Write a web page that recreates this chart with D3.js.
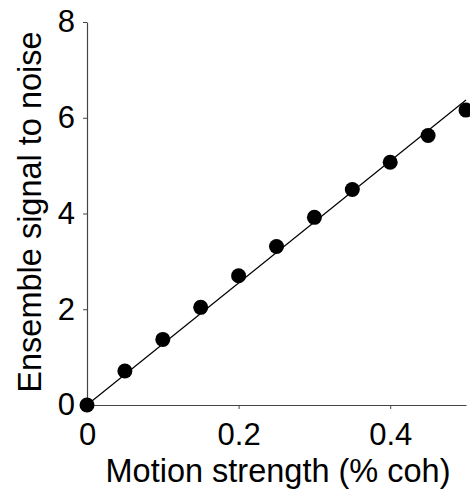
<!DOCTYPE html>
<html>
<head>
<meta charset="utf-8">
<script src="https://cdn.jsdelivr.net/npm/d3@7"></script>
<style>
  body { margin: 0; background: #fff; }
  text { font-family: "Liberation Sans", Arial, Helvetica, sans-serif; }
</style>
</head>
<body>
<svg id="chart"></svg>
<script>
// motion strength (coherence) and ensemble SNR
var coherence = [0, 0.05, 0.1, 0.15, 0.2, 0.25, 0.3, 0.35, 0.4, 0.45, 0.5];
var snr = [0, 0.71, 1.37, 2.04, 2.70, 3.31, 3.92, 4.50, 5.07, 5.63, 6.16];
// fitted line end points
var fitX = [0, 0.5];
var fitY = [0, 6.37];
var xTicks = [0, 0.2, 0.4];
var yTicks = [0, 2, 4, 6, 8];

var width = 470, height = 495;
var margin = { top: 22, right: 4, bottom: 90, left: 87 };

var svg = d3.select("#chart")
    .attr("width", width)
    .attr("height", height);

var x = d3.scaleLinear()
    .domain([0, 0.5])
    .range([margin.left, width - margin.right]);

var y = d3.scaleLinear()
    .domain([0, 8])
    .range([height - margin.bottom, margin.top]);

var axisColor = "#444";

// x axis
var gx = svg.append("g")
    .attr("transform", `translate(0,${y(0)})`)
    .call(d3.axisBottom(x).tickValues(xTicks).tickSizeInner(4).tickSizeOuter(0).tickPadding(14)
        .tickFormat(d => d === 0 ? "0" : d3.format(".1f")(d)));

// y axis
var gy = svg.append("g")
    .attr("transform", `translate(${x(0)},0)`)
    .call(d3.axisLeft(y).tickValues(yTicks).tickSizeInner(4).tickSizeOuter(0).tickPadding(8));

[gx, gy].forEach(g => {
    g.select(".domain").attr("stroke", axisColor).attr("stroke-width", 1.2);
    g.selectAll(".tick line").attr("stroke", axisColor);
    g.selectAll(".tick text")
        .attr("fill", "#000")
        .style("font-size", "31px")
        .style("font-family", "'Liberation Sans', Arial, sans-serif");
});

// fitted line
var line = d3.line()
    .x(d => x(d[0]))
    .y(d => y(d[1]));

svg.append("path")
    .datum(fitX.map((v, i) => [v, fitY[i]]))
    .attr("d", line)
    .attr("fill", "none")
    .attr("stroke", "#000")
    .attr("stroke-width", 1.2);

// points
svg.selectAll("circle.pt")
    .data(coherence)
    .enter()
    .append("circle")
    .attr("class", "pt")
    .attr("cx", d => x(d))
    .attr("cy", (d, i) => y(snr[i]))
    .attr("r", 7.5)
    .attr("fill", "#000");

// axis titles
svg.append("text")
    .attr("x", 278)
    .attr("y", 482)
    .attr("text-anchor", "middle")
    .style("font-size", "32.5px")
    .text("Motion strength (% coh)");

svg.append("text")
    .attr("transform", "translate(41,212) rotate(-90)")
    .attr("text-anchor", "middle")
    .style("font-size", "32.5px")
    .text("Ensemble signal to noise");
</script>
</body>
</html>
